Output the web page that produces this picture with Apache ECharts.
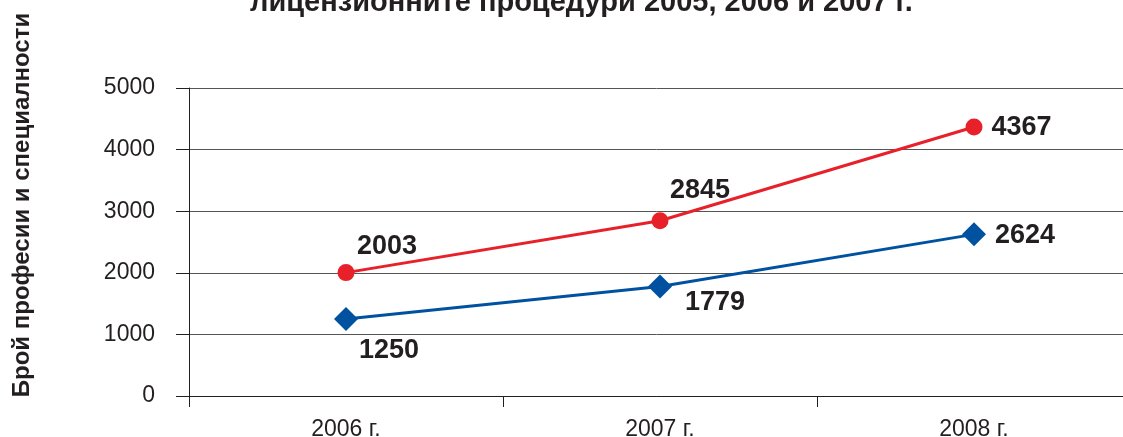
<!DOCTYPE html>
<html><head><meta charset="utf-8">
<script src="https://cdn.jsdelivr.net/npm/echarts@6/dist/echarts.min.js"></script>
<style>html,body{margin:0;padding:0;background:#fff}#c{width:1123px;height:437px}</style>
</head><body><div id="c"></div>
<script>
const categories = ['2006 г.', '2007 г.', '2008 г.'];
const redValues = [2003, 2845, 4367];
const blueValues = [1250, 1779, 2624];
const yTicks = [0, 1000, 2000, 3000, 4000, 5000];
const titleText = 'лицензионните процедури 2005, 2006 и 2007 г.';
const yName = 'Брой професии и специалности';

const FONT = '"Liberation Sans", Arial, sans-serif';
const redOffsets = [[41, -26], [40, -30], [0, 1]];
const redPos = ['inside', 'inside', 'right'];
const blueOffsets = [[43, 32], [55, 16], [0, 1]];
const bluePos = ['inside', 'inside', 'right'];

function mk(vals, pos, offs) {
  return vals.map((v, i) => ({
    value: v,
    label: { position: pos[i], offset: offs[i] }
  }));
}
const labelStyle = { show: true, color: '#231f20', fontSize: 27, fontWeight: 'bold', fontFamily: FONT, distance: 9 };

const chart = echarts.init(document.getElementById('c'), null, {renderer: 'canvas'});
chart.setOption({
  animation: false,
  title: { text: titleText, left: 245, top: -17,
    textStyle: { fontSize: 29, fontWeight: 'bold', color: '#231f20', fontFamily: FONT } },
  grid: { left: 189, top: 88, width: 942, height: 308, containLabel: false, outerBoundsMode: 'none' },
  xAxis: {
    type: 'category', data: categories, boundaryGap: true,
    axisLine: { show: true, lineStyle: { color: '#231f20', width: 1 } },
    axisTick: { show: true, interval: 0, length: 11, lineStyle: { color: '#231f20' } },
    axisLabel: { fontSize: 23, color: '#231f20', fontFamily: FONT, margin: 22, interval: 0 },
    splitLine: { show: false }
  },
  yAxis: {
    type: 'value', min: yTicks[0], max: yTicks[yTicks.length - 1], interval: 1000,
    name: yName, nameLocation: 'middle', nameGap: 155, nameRotate: 90,
    nameTextStyle: { fontSize: 24, fontWeight: 'bold', color: '#231f20', fontFamily: FONT,
      padding: [0, 0, 0, 74] },
    axisLine: { show: true, lineStyle: { color: '#231f20', width: 1 } },
    axisTick: { show: true, length: 13, lineStyle: { color: '#231f20' } },
    axisLabel: { fontSize: 23, color: '#231f20', fontFamily: FONT, margin: 34,
      formatter: v => String(v) },
    splitLine: { show: true, lineStyle: { color: '#555', width: 1 } }
  },
  series: [
    { name: 'red', type: 'line', data: mk(redValues, redPos, redOffsets),
      symbol: 'circle', symbolSize: 17,
      itemStyle: { color: '#e8202a' }, lineStyle: { color: '#e8202a', width: 3 },
      label: labelStyle, z: 3 },
    { name: 'blue', type: 'line', data: mk(blueValues, bluePos, blueOffsets),
      symbol: 'diamond', symbolSize: 24,
      itemStyle: { color: '#0052a0' }, lineStyle: { color: '#0052a0', width: 3 },
      label: labelStyle, z: 3 }
  ]
});
</script></body></html>
